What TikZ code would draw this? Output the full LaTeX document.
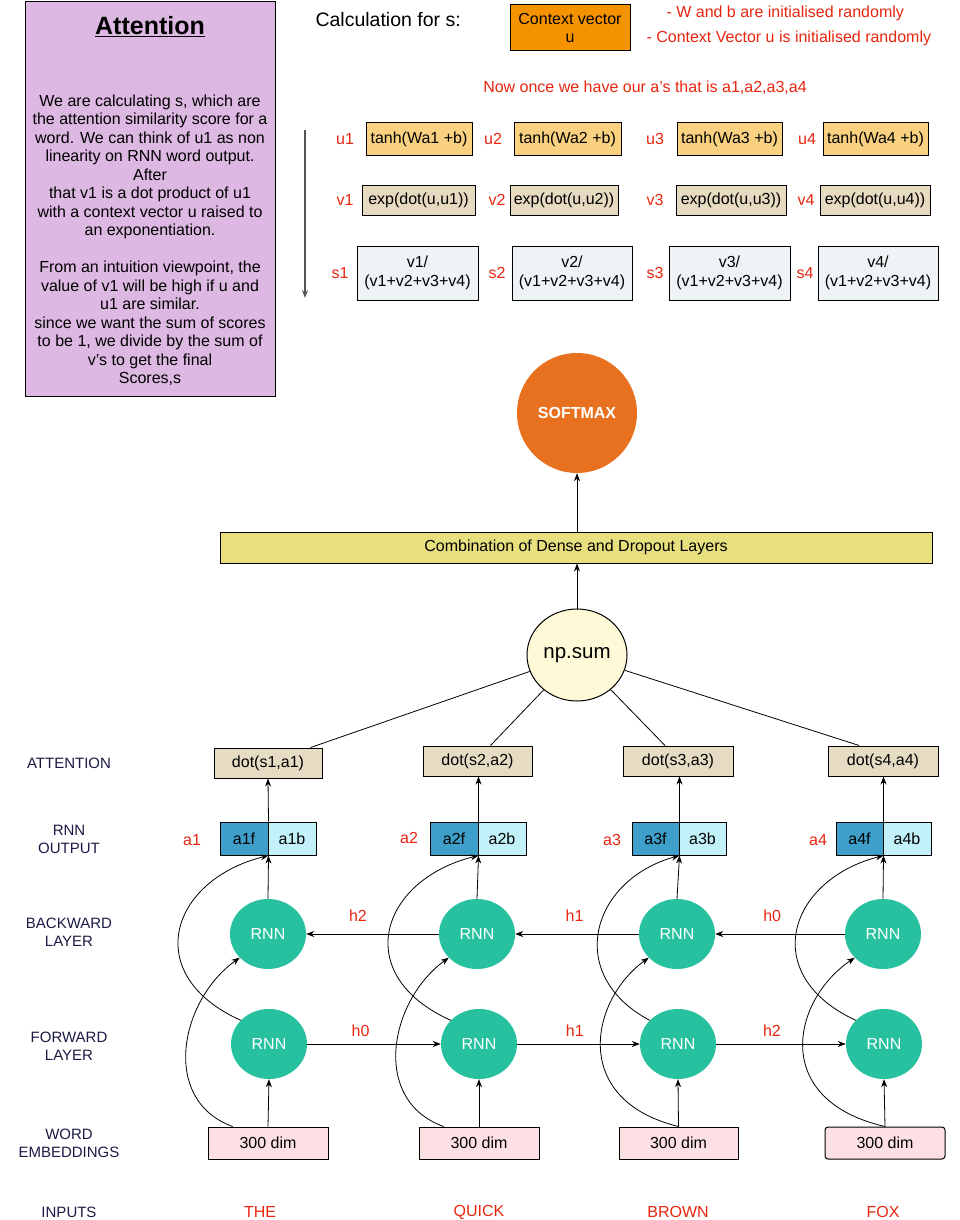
\documentclass[tikz,border=0pt]{standalone}
\usepackage{fontspec}
\setmainfont{Liberation Sans}
\usetikzlibrary{shapes.geometric,arrows.meta}
\definecolor{attnpink}{RGB}{221,184,226}
\definecolor{ctxorange}{RGB}{245,146,0}
\definecolor{tanhorange}{RGB}{249,209,128}
\definecolor{expbeige}{RGB}{230,218,192}
\definecolor{sgray}{RGB}{238,243,245}
\definecolor{smorange}{RGB}{232,113,31}
\definecolor{comboyellow}{RGB}{232,224,126}
\definecolor{npyellow}{RGB}{254,249,214}
\definecolor{dotbeige}{RGB}{230,220,196}
\definecolor{afblue}{RGB}{62,159,203}
\definecolor{abblue}{RGB}{194,241,250}
\definecolor{rnngreen}{RGB}{40,193,159}
\definecolor{embpink}{RGB}{253,224,228}
\definecolor{attred}{RGB}{232,38,15}
\definecolor{sidenavy}{RGB}{27,27,69}
\definecolor{flowgray}{RGB}{85,85,85}

\begin{document}
\begin{tikzpicture}[x=1pt,y=-1pt,
  >={Stealth[length=8pt,width=6pt]},
  every node/.style={font=\fontsize{16}{18.5}\selectfont},
  box/.style={draw=black,line width=1pt,rectangle,inner sep=0pt},
  redlbl/.style={text=attred},
  sidelbl/.style={text=sidenavy,align=center,font=\fontsize{15}{18}\selectfont},
  rnn/.style={ellipse,fill=rnngreen,text=white,minimum width=76pt,minimum height=70pt,inner sep=0pt},
  link/.style={->,line width=0.8pt}]
\useasboundingbox (0,0) rectangle (960,1220);
\path[fill=white] (0,0) rectangle (960,1220);
% note at the top left:
\node[box, fill=attnpink, minimum width=250pt, minimum height=394pt] (attn) at (150,199) {};
\node[font=\fontsize{25}{30}\selectfont\bfseries] (attntitle) at (150,27) {\underline{Attention}};
\node[align=center] (attnbody) at (150,240) {We are calculating s, which are\\the attention similarity score for a\\word. We can think of u1 as non\\linearity on RNN word output.\\After\\that v1 is a dot product of u1\\with a context vector u raised to\\an exponentiation.\\[18.5pt]From an intuition viewpoint, the\\value of v1 will be high if u and\\u1 are similar.\\since we want the sum of scores\\to be 1, we divide by the sum of\\v’s to get the final\\Scores,s};
% calculation for s:
\node[anchor=west, font=\fontsize{19.5}{23}\selectfont] (calc) at (312,20) {Calculation for s:};
\node[box, fill=ctxorange, minimum width=120pt, minimum height=46pt, align=center] (ctx) at (570,28) {Context vector\\u};
\node[redlbl, anchor=west] (note1) at (663,13) {- W and b are initialised randomly};
\node[redlbl, anchor=west] (note2) at (643,38) {- Context Vector u is initialised randomly};
\node[redlbl] (note3) at (645,88) {Now once we have our a’s that is a1,a2,a3,a4};
\coordinate (flowtop) at (305,130);
\coordinate (flowbot) at (305,298);
\draw[->, draw=flowgray, line width=1.4pt] (flowtop) -- (flowbot);
% u row
\node[redlbl] (u1lbl) at (345,139) {u1};
\node[box, fill=tanhorange, minimum width=106pt, minimum height=32pt] (u1) at (419,139) {tanh(Wa1 +b)};
\node[redlbl] (u2lbl) at (493,139) {u2};
\node[box, fill=tanhorange, minimum width=107pt, minimum height=32pt] (u2) at (567.5,139) {tanh(Wa2 +b)};
\node[redlbl] (u3lbl) at (655,139) {u3};
\node[box, fill=tanhorange, minimum width=105pt, minimum height=32pt] (u3) at (729.5,139) {tanh(Wa3 +b)};
\node[redlbl] (u4lbl) at (807,139) {u4};
\node[box, fill=tanhorange, minimum width=105pt, minimum height=32pt] (u4) at (875.5,139) {tanh(Wa4 +b)};
% v row
\node[redlbl] (v1lbl) at (345,200) {v1};
\node[box, fill=expbeige, minimum width=113pt, minimum height=30pt] (v1) at (418.5,200) {exp(dot(u,u1))};
\node[redlbl] (v2lbl) at (497,200) {v2};
\node[box, fill=expbeige, minimum width=108pt, minimum height=30pt] (v2) at (564,200) {exp(dot(u,u2))};
\node[redlbl] (v3lbl) at (655,200) {v3};
\node[box, fill=expbeige, minimum width=110pt, minimum height=30pt] (v3) at (731,200) {exp(dot(u,u3))};
\node[redlbl] (v4lbl) at (806,200) {v4};
\node[box, fill=expbeige, minimum width=110pt, minimum height=30pt] (v4) at (875,200) {exp(dot(u,u4))};
% s row
\node[redlbl] (s1lbl) at (340,273) {s1};
\node[box, fill=sgray, minimum width=121pt, minimum height=54pt, align=center] (s1) at (417.5,273) {v1/\\(v1+v2+v3+v4)};
\node[redlbl] (s2lbl) at (497,273) {s2};
\node[box, fill=sgray, minimum width=120pt, minimum height=54pt, align=center] (s2) at (572,273) {v2/\\(v1+v2+v3+v4)};
\node[redlbl] (s3lbl) at (655,273) {s3};
\node[box, fill=sgray, minimum width=121pt, minimum height=54pt, align=center] (s3) at (729.5,273) {v3/\\(v1+v2+v3+v4)};
\node[redlbl] (s4lbl) at (805,273) {s4};
\node[box, fill=sgray, minimum width=120pt, minimum height=54pt, align=center] (s4) at (878,273) {v4/\\(v1+v2+v3+v4)};
% top of the network
\node[circle, fill=smorange, minimum size=120pt, text=white, font=\fontsize{16}{19}\selectfont\bfseries] (softmax) at (577,413) {SOFTMAX};
\node[box, fill=comboyellow, minimum width=712pt, minimum height=31pt] (combo) at (576,547.5) {Combination of Dense and Dropout Layers};
\node[ellipse, draw=black, line width=1pt, fill=npyellow, minimum width=100pt, minimum height=92pt, inner sep=0pt, font=\fontsize{20.5}{24}\selectfont] (npsum) at (577,655) {np.sum};
\draw[link] (combo.north -| softmax) -- (softmax.south);
\draw[link] (npsum.north) -- (npsum.north |- combo.south);
% side labels
\node[sidelbl] (lattn) at (69,763) {ATTENTION};
\node[sidelbl] (lout) at (69,839) {RNN\\OUTPUT};
\node[sidelbl] (lbwd) at (69,932) {BACKWARD\\LAYER};
\node[sidelbl] (lfwd) at (69,1046) {FORWARD\\LAYER};
\node[sidelbl] (lemb) at (69,1143) {WORD\\EMBEDDINGS};
\node[sidelbl] (linp) at (69,1212) {INPUTS};
% column THE
\node[box, fill=dotbeige, minimum width=108pt, minimum height=30pt] (dot1) at (268,763) {dot(s1,a1)};
\node[redlbl] (a1lbl) at (192,840) {a1};
\node[box, fill=afblue, minimum width=48pt, minimum height=33pt] (af1) at (244,838.5) {a1f};
\node[box, fill=abblue, minimum width=48pt, minimum height=33pt] (ab1) at (292,838.5) {a1b};
\node[rnn] (bwd1) at (268,934) {RNN};
\node[rnn] (fwd1) at (269,1044) {RNN};
\node[box, fill=embpink, minimum width=120pt, minimum height=32pt] (emb1) at (268,1143) {300 dim};
\node[redlbl] (in1) at (260,1212) {THE};
% column QUICK
\node[box, fill=dotbeige, minimum width=109pt, minimum height=30pt] (dot2) at (477.5,761) {dot(s2,a2)};
\node[redlbl] (a2lbl) at (409,838) {a2};
\node[box, fill=afblue, minimum width=48pt, minimum height=33pt] (af2) at (454,838.5) {a2f};
\node[box, fill=abblue, minimum width=48pt, minimum height=33pt] (ab2) at (502,838.5) {a2b};
\node[rnn] (bwd2) at (477,934) {RNN};
\node[rnn] (fwd2) at (479,1044) {RNN};
\node[box, fill=embpink, minimum width=120pt, minimum height=32pt] (emb2) at (479,1143) {300 dim};
\node[redlbl] (in2) at (479,1212) {QUICK};
% column BROWN
\node[box, fill=dotbeige, minimum width=110pt, minimum height=30pt] (dot3) at (678,761) {dot(s3,a3)};
\node[redlbl] (a3lbl) at (612,840) {a3};
\node[box, fill=afblue, minimum width=47pt, minimum height=33pt] (af3) at (655.5,838.5) {a3f};
\node[box, fill=abblue, minimum width=47pt, minimum height=33pt] (ab3) at (702.5,838.5) {a3b};
\node[rnn] (bwd3) at (677,934) {RNN};
\node[rnn] (fwd3) at (678,1044) {RNN};
\node[box, fill=embpink, minimum width=119pt, minimum height=32pt] (emb3) at (678.5,1143) {300 dim};
\node[redlbl] (in3) at (678,1212) {BROWN};
% column FOX
\node[box, fill=dotbeige, minimum width=110pt, minimum height=30pt] (dot4) at (883,761) {dot(s4,a4)};
\node[redlbl] (a4lbl) at (818,840) {a4};
\node[box, fill=afblue, minimum width=47pt, minimum height=33pt] (af4) at (859.5,838.5) {a4f};
\node[box, fill=abblue, minimum width=48pt, minimum height=33pt] (ab4) at (907,838.5) {a4b};
\node[rnn] (bwd4) at (883,934) {RNN};
\node[rnn] (fwd4) at (884,1044) {RNN};
\node[box, rounded corners=3pt, fill=embpink, minimum width=120pt, minimum height=32pt] (emb4) at (885,1143) {300 dim};
\node[redlbl] (in4) at (883,1212) {FOX};
% attention to np.sum
\draw[line width=0.8pt] (dot1.20) -- (npsum);
\draw[line width=0.8pt] (dot2.50) -- (npsum);
\draw[line width=0.8pt] (dot3.130) -- (npsum);
\draw[line width=0.8pt] (dot4.147) -- (npsum);
% straight links
\draw[link] (af1.north east) -- (dot1.south);
\draw[link] (af2.north east) -- (af2.north east |- dot2.south);
\draw[link] (af3.north east) -- (af3.north east |- dot3.south);
\draw[link] (af4.north east) -- (af4.north east |- dot4.south);
\draw[link] (bwd1.north) -- (af1.south east);
\draw[link] (bwd2.north) -- (af2.south east);
\draw[link] (bwd3.north) -- (af3.south east);
\draw[link] (bwd4.north) -- (af4.south east);
\draw[link] (emb1.north) -- (fwd1.south);
\draw[link] (emb2.north) -- (fwd2.south);
\draw[link] (emb3.north) -- (fwd3.south);
\draw[link] (emb4.north) -- (fwd4.south);
% hidden states
\draw[link] (fwd1) -- node[redlbl, pos=0.4, above=4pt] {h0} (fwd2);
\draw[link] (fwd2) -- node[redlbl, pos=0.47, above=4pt] {h1} (fwd3);
\draw[link] (fwd3) -- node[redlbl, pos=0.43, above=4pt] {h2} (fwd4);
\draw[link] (bwd4) -- node[redlbl, pos=0.56, above=9pt] {h0} (bwd3);
\draw[link] (bwd3) -- node[redlbl, pos=0.52, above=9pt] {h1} (bwd2);
\draw[link] (bwd2) -- node[redlbl, pos=0.61, above=9pt] {h2} (bwd1);
% curved links
\draw[link] (fwd1.140) .. controls (140,975) and (170,880) .. (af1.south east);
\draw[link] (emb1.155) .. controls (160,1100) and (180,1000) .. (bwd1.220);
\draw[link] (fwd2.140) .. controls (350,975) and (380,880) .. (af2.south east);
\draw[link] (emb2.155) .. controls (370,1100) and (390,1000) .. (bwd2.220);
\draw[link] (fwd3.140) .. controls (564,975) and (591,880) .. (af3.south east);
\draw[link] (emb3.north) .. controls (570,1100) and (590,1000) .. (bwd3.220);
\draw[link] (fwd4.140) .. controls (758,975) and (788,880) .. (af4.south east);
\draw[link] (emb4.north) .. controls (770,1100) and (792,1000) .. (bwd4.220);
\end{tikzpicture}
\end{document}
